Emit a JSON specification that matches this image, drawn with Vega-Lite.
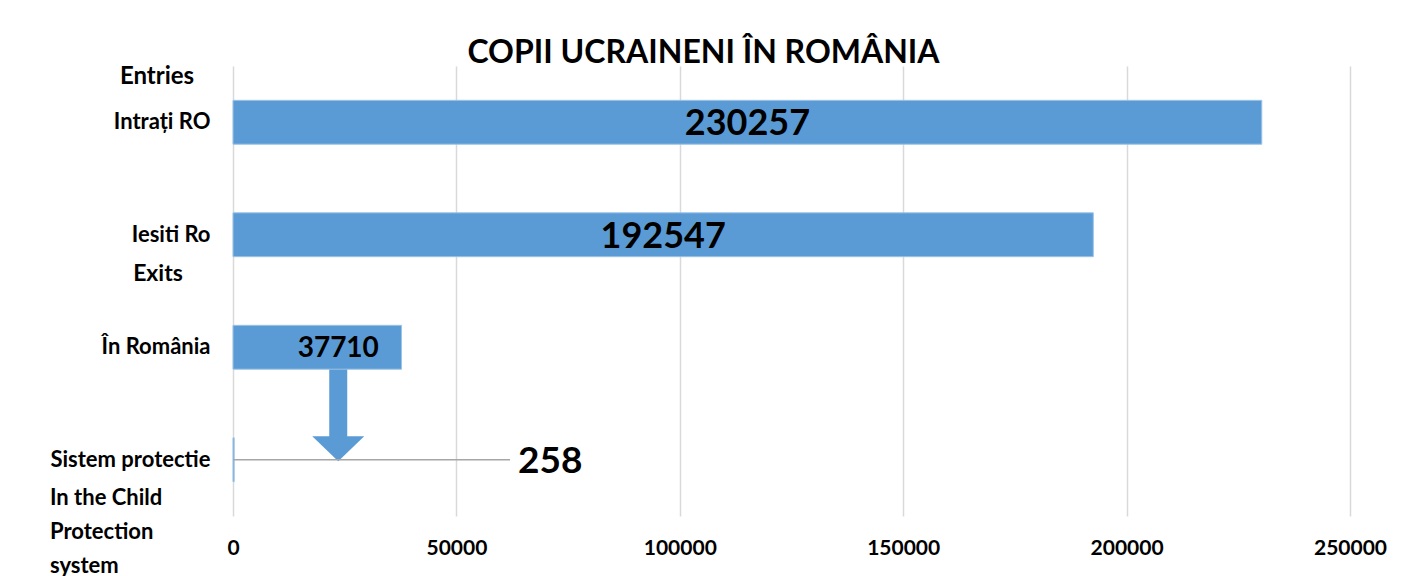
{
  "$schema": "https://vega.github.io/schema/vega-lite/v6.json",
  "width": 1117,
  "height": 450,
  "autosize": {"type": "none"},
  "padding": {"left": 233, "top": 66, "right": 58, "bottom": 60},
  "background": "white",
  "title": {
    "text": "COPII UCRAINENI ÎN ROMÂNIA",
    "font": "Lato",
    "fontSize": 32,
    "fontWeight": "bold",
    "color": "#000000",
    "anchor": "middle",
    "dx": -88,
    "dy": 31,
    "offset": 1,
    "baseline": "alphabetic"
  },
  "config": {
    "view": {"stroke": null},
    "font": "Lato"
  },
  "data": {
    "values": [
      {"cat": "Intrați RO", "value": 230257},
      {"cat": "Iesiti Ro", "value": 192547},
      {"cat": "În România", "value": 37710},
      {"cat": "Sistem protectie", "value": 258}
    ]
  },
  "transform": [{"calculate": "datum.value / 2", "as": "mid"}],
  "layer": [
    {
      "transform": [{"filter": "datum.cat == 'În România'"}],
      "mark": {"type": "rule", "color": "#5B9BD5", "strokeWidth": 18, "strokeCap": "butt", "xOffset": 21, "y2Offset": -22},
      "encoding": {
        "x": {"field": "mid", "type": "quantitative"},
        "y": {"field": "cat", "type": "nominal", "sort": null},
        "y2": {"datum": "Sistem protectie"}
      }
    },
    {
      "mark": {"type": "bar", "color": "#5B9BD5", "stroke": "#9DC3E6", "strokeWidth": 1},
      "encoding": {
        "x": {
          "field": "value",
          "type": "quantitative",
          "scale": {"domain": [0, 250000], "nice": false},
          "axis": {
            "title": null,
            "values": [0, 50000, 100000, 150000, 200000, 250000],
            "format": "d",
            "domain": false,
            "ticks": false,
            "grid": true,
            "gridColor": "#D9D9D9",
            "gridWidth": 1.5,
            "labelFont": "Lato",
            "labelFontSize": 21,
            "labelFontWeight": "bold",
            "labelColor": "#000000",
            "labelFlush": false,
            "labelPadding": 21
          }
        },
        "y": {
          "field": "cat",
          "type": "nominal",
          "sort": null,
          "scale": {"domain": ["Intrați RO", "Iesiti Ro", "În România", "Sistem protectie"], "paddingInner": 0.61, "paddingOuter": 0.305},
          "axis": {
            "title": null,
            "domain": false,
            "ticks": false,
            "labelFont": "Lato",
            "labelFontSize": 22,
            "labelFontWeight": "bold",
            "labelColor": "#000000",
            "labelPadding": 23
          }
        }
      }
    },
    {
      "transform": [{"filter": "datum.cat == 'În România'"}],
      "mark": {"type": "point", "filled": true, "color": "#5B9BD5", "opacity": 1, "shape": "M-1,-0.9L1,-0.9L0,0.06Z", "size": 2704, "xOffset": 21},
      "encoding": {
        "x": {"field": "mid", "type": "quantitative"},
        "y": {"datum": "Sistem protectie"}
      }
    },
    {
      "transform": [{"filter": "datum.cat == 'Sistem protectie'"}],
      "mark": {"type": "rule", "color": "#A6A6A6", "strokeWidth": 1.5},
      "encoding": {
        "x": {"datum": 0},
        "x2": {"datum": 62000},
        "y": {"field": "cat", "type": "nominal", "sort": null}
      }
    },
    {
      "transform": [{"filter": "datum.value > 100000"}],
      "mark": {"type": "text", "font": "Lato", "fontSize": 36, "fontWeight": "bold", "color": "#000000", "align": "center", "baseline": "middle", "dy": 2},
      "encoding": {
        "x": {"field": "mid", "type": "quantitative"},
        "y": {"field": "cat", "type": "nominal", "sort": null},
        "text": {"field": "value", "type": "nominal"}
      }
    },
    {
      "transform": [{"filter": "datum.cat == 'În România'"}],
      "mark": {"type": "text", "font": "Lato", "fontSize": 28, "fontWeight": "bold", "color": "#000000", "align": "center", "baseline": "middle", "dx": 21, "dy": 2},
      "encoding": {
        "x": {"field": "mid", "type": "quantitative"},
        "y": {"field": "cat", "type": "nominal", "sort": null},
        "text": {"field": "value", "type": "nominal"}
      }
    },
    {
      "transform": [{"filter": "datum.cat == 'Sistem protectie'"}],
      "mark": {"type": "text", "font": "Lato", "fontSize": 37, "fontWeight": "bold", "color": "#000000", "align": "left", "baseline": "middle", "dx": 8, "dy": 2},
      "encoding": {
        "x": {"datum": 62000},
        "y": {"field": "cat", "type": "nominal", "sort": null},
        "text": {"field": "value", "type": "nominal"}
      }
    },
    {
      "transform": [{"filter": "datum.cat == 'Intrați RO'"}],
      "mark": {"type": "text", "font": "Lato", "fontSize": 24, "fontWeight": "bold", "color": "#000000", "align": "center", "baseline": "middle", "dx": -76, "dy": -45, "text": "Entries"},
      "encoding": {
        "x": {"datum": 0},
        "y": {"field": "cat", "type": "nominal", "sort": null}
      }
    },
    {
      "transform": [{"filter": "datum.cat == 'Iesiti Ro'"}],
      "mark": {"type": "text", "font": "Lato", "fontSize": 23, "fontWeight": "bold", "color": "#000000", "align": "center", "baseline": "middle", "dx": -75, "dy": 39, "text": "Exits"},
      "encoding": {
        "x": {"datum": 0},
        "y": {"field": "cat", "type": "nominal", "sort": null}
      }
    },
    {
      "transform": [{"filter": "datum.cat == 'Sistem protectie'"}],
      "mark": {"type": "text", "font": "Lato", "fontSize": 22, "fontWeight": "bold", "color": "#000000", "align": "left", "baseline": "middle", "lineBreak": "\n", "lineHeight": 34, "dx": -183, "dy": 38, "text": "In the Child\nProtection\nsystem"},
      "encoding": {
        "x": {"datum": 0},
        "y": {"field": "cat", "type": "nominal", "sort": null}
      }
    }
  ]
}
